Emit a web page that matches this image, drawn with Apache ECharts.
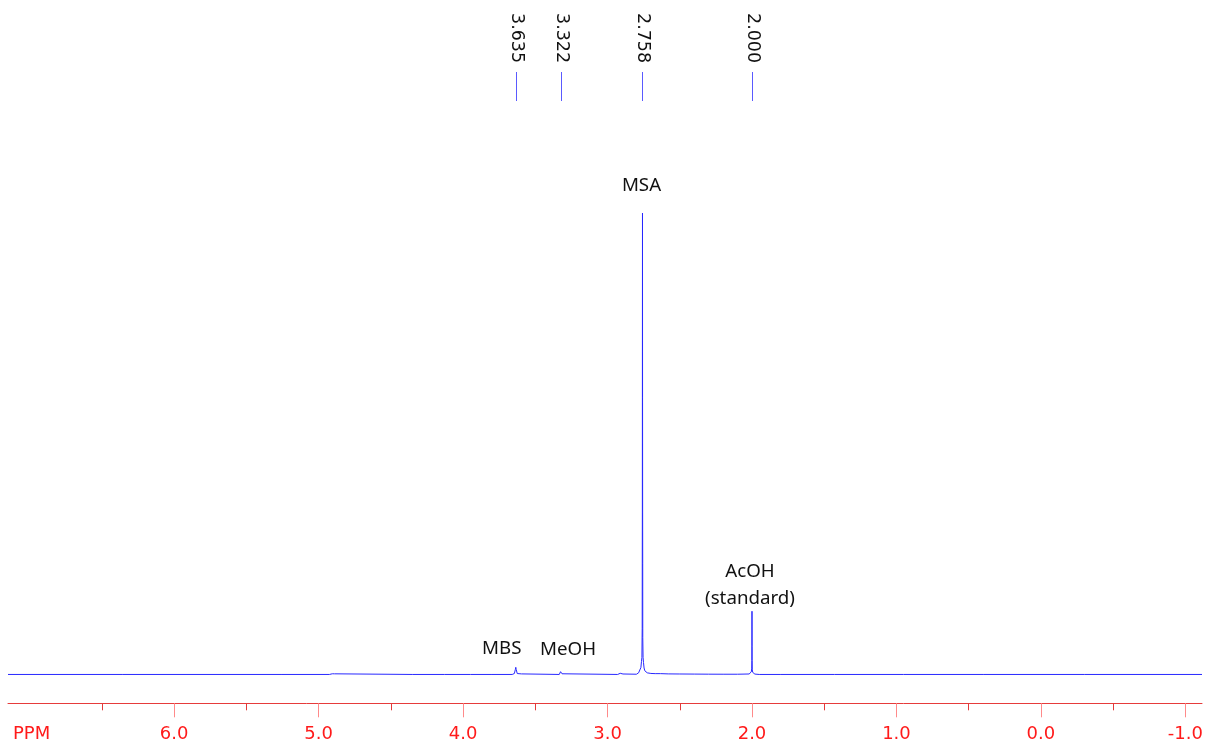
<!DOCTYPE html>
<html>
<head>
<meta charset="utf-8">
<title>1H NMR spectrum</title>
<script src="https://cdn.jsdelivr.net/npm/echarts@6/dist/echarts.min.js"></script>
<style>
  html, body { margin: 0; padding: 0; background: #ffffff; }
  #chart { width: 1207px; height: 744px; }
</style>
</head>
<body>
<div id="chart"></div>
<script>
// Picked peak shifts (ppm), printed above the spectrum
const peakShifts = [3.635, 3.322, 2.758, 2.000];
// Compound assigned to each picked peak
const peakNames = ['MBS', 'MeOH', 'MSA', 'AcOH\n(standard)'];
// Peak-top intensity of each picked peak (MSA = 100)
const peakHeights = [1.55, 0.85, 100, 13.7];

// Ruler ticks (ppm)
const majorTicks = [6, 5, 4, 3, 2, 1, 0, -1];
const minorTicks = [6.5, 5.5, 4.5, 3.5, 2.5, 1.5, 0.5, -0.5];

// Spectrum trace: [ppm, relative intensity]
const spectrum = [
  [7.15, 0.00], [6.790, 0.00], [6.786, -0.20], [6.782, 0.00],
  [6.360, 0.00], [6.356, 0.12], [6.352, 0.00],
  [5.260, 0.00], [5.256, 0.12], [5.252, 0.00],
  [4.925, 0.00], [4.920, 0.14], [4.915, 0.00], [4.905, 0.15], [4.900, 0.00],
  [4.890, 0.14], [4.885, 0.00],
  [4.352, 0.00], [4.347, 0.28], [4.342, 0.00],
  [4.130, 0.00], [4.126, 0.10], [4.122, 0.00],
  [3.950, 0.00], [3.946, 0.10], [3.942, 0.00],
  [3.800, 0.00], [3.796, 0.10], [3.792, 0.00],
  [3.660, 0.00], [3.645, 0.20], [3.638, 1.10], [3.635, 1.55], [3.632, 1.05],
  [3.625, 0.20], [3.612, 0.00], [3.596, 0.12], [3.590, 0.00],
  [3.334, 0.00], [3.328, 0.20], [3.325, 0.60], [3.322, 0.85], [3.319, 0.55],
  [3.315, 0.15], [3.308, 0.00],
  [2.930, 0.00], [2.912, 0.25], [2.902, 0.42], [2.893, 0.10], [2.880, 0.00],
  [2.800, 0.05], [2.785, 0.35], [2.775, 0.70], [2.769, 1.50],
  [2.765, 2.80], [2.762, 3.70], [2.760, 10.0], [2.7595, 25.0], [2.759, 35.0],
  [2.7585, 70.0], [2.758, 100], [2.7575, 60.0], [2.757, 35.0], [2.7565, 24.0],
  [2.756, 8.00], [2.754, 3.70], [2.751, 2.60], [2.747, 1.40], [2.742, 0.80],
  [2.735, 0.50], [2.725, 0.35], [2.700, 0.22], [2.670, 0.18], [2.632, 0.18],
  [2.626, 0.35], [2.620, 0.15], [2.580, 0.12], [2.500, 0.10], [2.400, 0.08],
  [2.300, 0.06], [2.200, 0.05], [2.100, 0.05],
  [2.02, 0.10], [2.01, 0.25], [2.005, 0.55], [2.002, 1.20],
  [2.0008, 3.00], [2.0004, 6.20], [2.000, 13.7], [1.9996, 6.00], [1.9992, 3.00],
  [1.998, 1.00], [1.995, 0.45], [1.99, 0.20], [1.98, 0.08], [1.95, 0.00],
  [1.800, 0.00], [1.796, 0.10], [1.792, 0.00],
  [1.430, 0.00], [1.426, 0.08], [1.422, 0.00],
  [0.950, 0.00], [0.946, 0.08], [0.942, 0.00],
  [0.400, 0.00], [0.396, 0.08], [0.392, 0.00],
  [-0.300, 0.00], [-0.304, 0.08], [-0.308, 0.00],
  [-1.115, 0.00]
];

// Layout of the assignment labels: pixel offset of each label centre from its peak top
const nameOffsets = [[-14, -18], [7, -21], [-1, -27], [-2, -26]];

const chart = echarts.init(document.getElementById('chart'), null, { renderer: 'canvas' });

const SPEC_BLUE = '#2828ff';
const PPM_MIN = -1.115;
const PPM_MAX = 7.15;

chart.setOption({
  animation: false,
  backgroundColor: '#ffffff',
  grid: { left: 8, right: 5, top: 213, bottom: 40.7, containLabel: false },
  xAxis: [
    {
      type: 'value',
      min: PPM_MIN,
      max: PPM_MAX,
      inverse: true,
      position: 'bottom',
      axisLine: { show: true, onZero: false, lineStyle: { color: '#e63b3b', width: 1 } },
      axisTick: { show: true, customValues: minorTicks, length: 7, lineStyle: { color: '#e23a3a', width: 1 } },
      axisLabel: {
        show: true,
        customValues: majorTicks,
        formatter: v => Number(v).toFixed(1),
        color: '#ff1a1a',
        fontFamily: 'DejaVu Sans',
        fontSize: 18,
        margin: 22
      },
      splitLine: { show: false }
    },
    {
      type: 'value',
      min: PPM_MIN,
      max: PPM_MAX,
      inverse: true,
      position: 'bottom',
      axisLine: { show: false, onZero: false },
      axisTick: { show: true, customValues: majorTicks, length: 14, lineStyle: { color: '#ff8a8a', width: 1 } },
      axisLabel: { show: false },
      splitLine: { show: false }
    }
  ],
  yAxis: { type: 'value', min: -6.25, max: 100, show: false },
  graphic: [
    {
      type: 'text',
      left: 13,
      top: 725,
      style: { text: 'PPM', fill: '#ff1a1a', font: '18px "DejaVu Sans"' }
    }
  ],
  series: [
    {
      type: 'line',
      data: spectrum,
      showSymbol: false,
      symbol: 'none',
      sampling: null,
      lineStyle: { color: SPEC_BLUE, width: 1 },
      z: 3
    },
    {
      // Peak-pick markers with shift values, and compound assignments
      type: 'custom',
      data: peakShifts.map((p, i) => [p, peakHeights[i]]),
      clip: false,
      z: 4,
      renderItem: function (params, api) {
        const i = params.dataIndex;
        const top = api.coord([api.value(0), api.value(1)]);
        const x = Math.round(top[0]) + 0.5;
        const off = nameOffsets[i];
        return {
          type: 'group',
          children: [
            {
              type: 'line',
              shape: { x1: x, y1: 72, x2: x, y2: 101 },
              style: { stroke: '#5a5aff', lineWidth: 1 }
            },
            {
              type: 'text',
              x: x,
              y: 13,
              rotation: -Math.PI / 2,
              style: {
                text: peakShifts[i].toFixed(3),
                fill: '#111111',
                font: '17.5px "DejaVu Sans"',
                align: 'left',
                verticalAlign: 'middle'
              }
            },
            {
              type: 'text',
              x: top[0] + off[0],
              y: top[1] + off[1],
              scaleX: 1.04,
              style: {
                text: peakNames[i],
                fill: '#111111',
                font: '18px "Noto Sans"',
                align: 'center',
                verticalAlign: 'middle',
                lineHeight: 27
              }
            }
          ]
        };
      }
    }
  ]
});
</script>
</body>
</html>
